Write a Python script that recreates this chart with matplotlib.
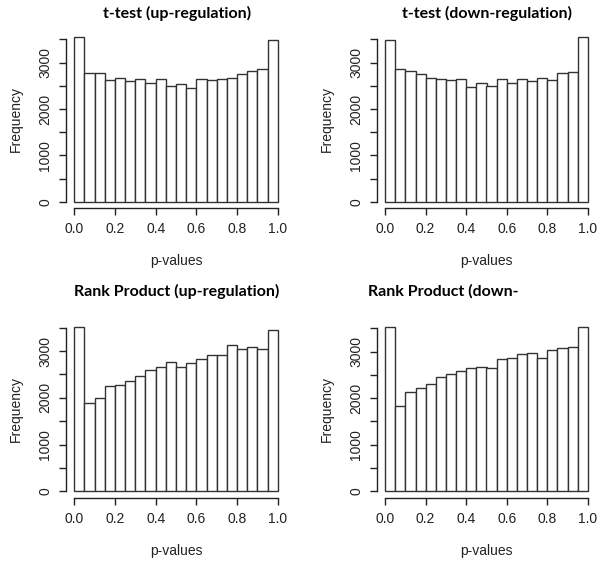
import numpy as np
import matplotlib
matplotlib.use("Agg")
import matplotlib.pyplot as plt

# 20 bins of width 0.05 over [0, 1]
bin_edges = np.linspace(0, 1, 21)

ttest_up = [3550, 2780, 2770, 2620, 2665, 2600, 2640, 2555, 2640, 2490,
            2550, 2460, 2640, 2630, 2655, 2665, 2760, 2820, 2865, 3480]
ttest_down = [3480, 2865, 2820, 2750, 2665, 2655, 2635, 2640, 2470, 2555,
              2500, 2640, 2555, 2640, 2600, 2665, 2620, 2780, 2800, 3550]
rp_up = [3510, 1880, 2005, 2255, 2280, 2365, 2470, 2605, 2670, 2765,
         2655, 2750, 2830, 2915, 2915, 3130, 3055, 3095, 3055, 3445]
rp_down = [3525, 1825, 2135, 2210, 2315, 2460, 2510, 2575, 2640, 2660,
           2645, 2850, 2870, 2940, 2970, 2870, 3035, 3070, 3110, 3525]

titles = ["t-test (up-regulation)", "t-test (down-regulation)",
          "Rank Product (up-regulation)", "Rank Product (down-"]
x_ticks = [0.0, 0.2, 0.4, 0.6, 0.8, 1.0]
y_ticks = [0, 500, 1000, 1500, 2000, 2500, 3000, 3500]

W, H = 600, 561
fig = plt.figure(figsize=(6, 5.61), dpi=100)

# axes boxes in pixels: left, top, right, bottom
boxes = [(66, 30.6, 286, 208.3), (377, 30.6, 596, 208.3),
         (66, 320.7, 286, 497.8), (377, 320.7, 596, 497.8)]
title_pos = [(177, 13, "center"), (487, 13, "center"),
             (177, 291, "center"), (368, 291, "left")]

txt_col = "#222222"
for counts, title, box, tpos in zip([ttest_up, ttest_down, rp_up, rp_down],
                                    titles, boxes, title_pos):
    l, t, r, b = box
    ax = fig.add_axes([l / W, 1 - b / H, (r - l) / W, (b - t) / H])
    ax.bar(bin_edges[:-1], counts, width=0.05, align="edge",
           color="white", edgecolor="#333333", linewidth=1.0)
    ymax = max(counts)
    ax.set_xlim(-0.04, 1.04)
    ax.set_ylim(-0.04 * ymax, 1.04 * ymax)

    for s in ["top", "right"]:
        ax.spines[s].set_visible(False)
    ax.spines["left"].set_bounds(0, 3500)
    ax.spines["bottom"].set_bounds(0, 1)
    for s in ["left", "bottom"]:
        ax.spines[s].set_color("#222222")
        ax.spines[s].set_linewidth(1.0)

    ax.set_xticks(x_ticks)
    ax.set_xticklabels(["%.1f" % v for v in x_ticks])
    ax.set_yticks(y_ticks)
    ax.set_yticklabels([str(v) if v % 1000 == 0 else "" for v in y_ticks],
                       rotation=90, va="center")
    ax.tick_params(length=5, width=1.0, color="#222222", labelcolor=txt_col,
                   labelsize=10, pad=5)
    for lab in ax.get_xticklabels() + ax.get_yticklabels():
        lab.set_family("Liberation Sans")

    ax.set_xlabel("p-values", fontsize=10, color=txt_col,
                  family="Liberation Sans", labelpad=13)
    ax.set_ylabel("Frequency", fontsize=10, color=txt_col,
                  family="Liberation Sans", labelpad=11)

    fig.text(tpos[0] / W, 1 - tpos[1] / H, title, ha=tpos[2], va="center",
             fontsize=11.5, fontweight="bold", family="Lato", color="black")

fig.savefig("out.png", dpi=100, facecolor="white")
